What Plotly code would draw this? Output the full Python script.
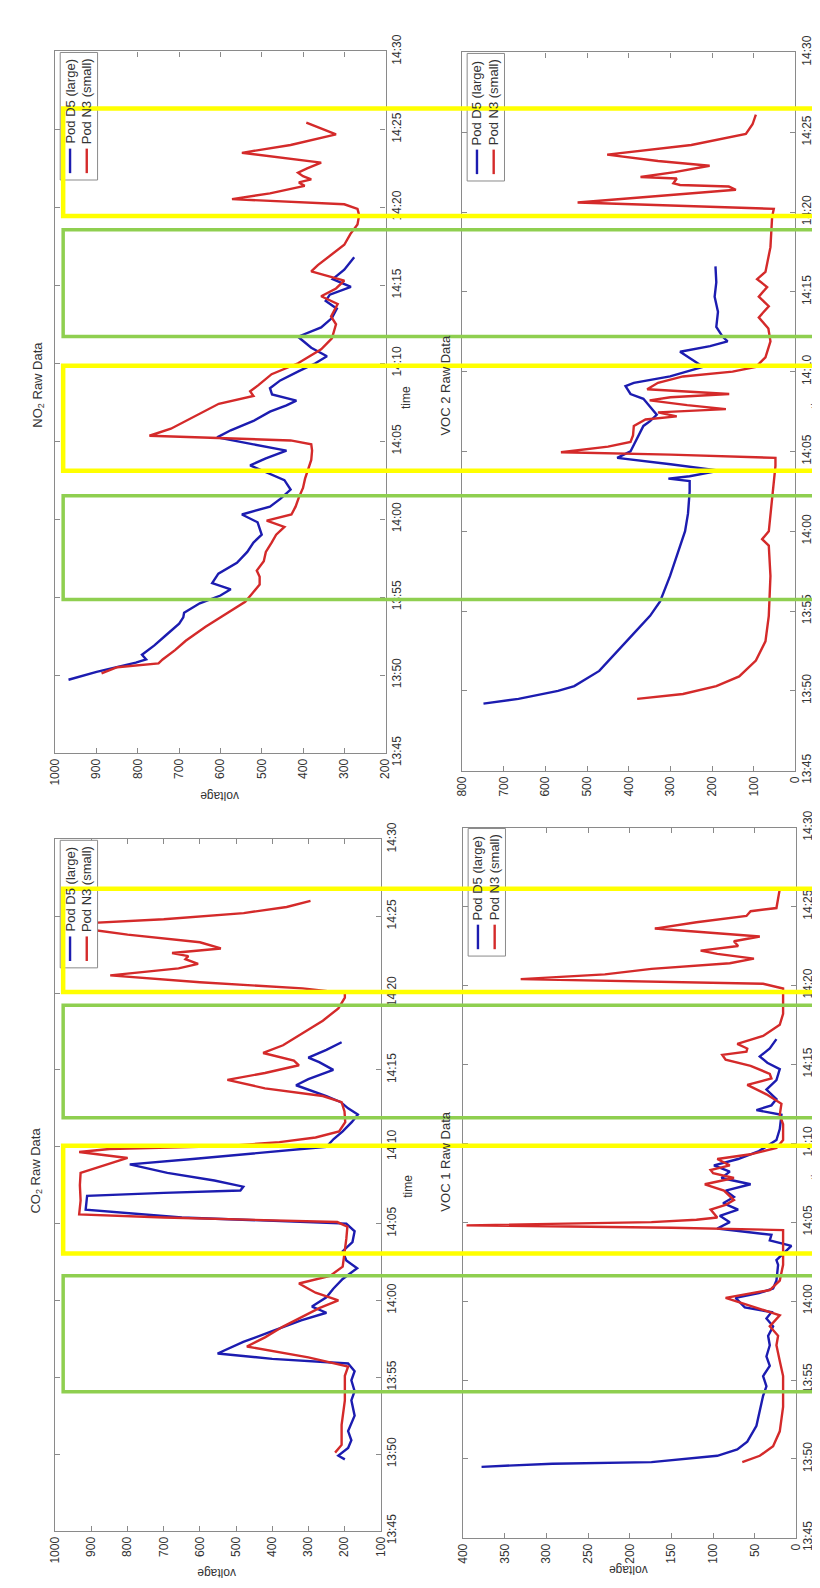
import plotly.graph_objects as go

W, H = 820, 1588

# ---------------- tick labels ----------------
time_tick_vals = [45, 50, 55, 60, 65, 70, 75, 80, 85, 90]          # minutes after 13:00
time_tick_text = ["13:45", "13:50", "13:55", "14:00", "14:05",
                  "14:10", "14:15", "14:20", "14:25", "14:30"]
no2_volt_ticks = [200, 300, 400, 500, 600, 700, 800, 900, 1000]
voc2_volt_ticks = [0, 100, 200, 300, 400, 500, 600, 700, 800]
co2_volt_ticks = [100, 200, 300, 400, 500, 600, 700, 800, 900, 1000]
voc1_volt_ticks = [0, 50, 100, 150, 200, 250, 300, 350, 400]

series_names = ["Pod D5 (large)", "Pod N3 (small)"]

# ---------------- NO2 ----------------
no2_d5_t = [49.7, 50.2, 50.8, 51.0, 51.3, 51.9, 52.6, 53.3, 53.7, 54.0, 54.6, 55.1, 55.5, 55.9, 56.5,
            57.2, 57.9, 58.5, 59.0, 59.8, 60.3, 60.8, 61.3, 61.9, 62.5, 63.0, 63.45, 63.9, 64.4, 64.8,
            65.25, 65.7, 66.3, 66.9, 67.3, 67.6, 68.0, 68.4, 68.9, 69.5, 70.0, 70.45, 71.0, 71.7, 72.3,
            72.9, 73.5, 74.0, 74.4, 74.9, 75.4, 76.0, 76.8]
no2_d5_v = [968, 900, 805, 780, 790, 760, 730, 700, 690, 688, 650, 600, 575, 620, 605,
            560, 535, 520, 500, 510, 548, 480, 455, 430, 445, 490, 528, 490, 440, 520,
            608, 575, 520, 480, 440, 416, 475, 480, 455, 410, 370, 342, 380, 412, 356,
            330, 318, 345, 335, 284, 328, 300, 276]
no2_n3_t = [50.1, 50.5, 50.75, 51.0, 51.6, 52.2, 53.1, 53.9, 54.7, 55.2, 55.8, 56.3, 56.7, 57.3, 57.9,
            58.5, 59.0, 59.5, 59.9, 60.3, 60.8, 61.4, 62.0, 62.6, 63.2, 63.8, 64.4, 64.8, 65.05, 65.35,
            65.8, 66.5, 67.4, 67.9, 68.2, 68.6, 69.3, 70.0, 70.9, 71.6, 72.5, 73.0, 73.8, 74.3, 74.8,
            75.3, 75.9, 76.3, 77.0, 77.6, 78.3, 78.9, 79.5, 79.9, 80.2, 80.53, 80.9, 81.38, 81.6, 81.8,
            82.0, 82.23, 82.5, 82.87, 83.5, 84.0, 84.68, 85.0, 85.43]
no2_n3_v = [888, 850, 750, 740, 710, 684, 636, 588, 540, 524, 505, 505, 512, 495, 490,
            476, 465, 445, 488, 428, 418, 410, 400, 395, 388, 380, 378, 380, 430, 772,
            720, 668, 604, 520, 528, 508, 476, 412, 356, 330, 320, 332, 316, 356, 320,
            300, 380, 364, 330, 300, 285, 268, 264, 268, 300, 572, 480, 396, 410, 380,
            400, 412, 390, 356, 548, 430, 320, 350, 392]

# ---------------- VOC 2 ----------------
voc2_d5_t = [49.2, 49.5, 50.0, 50.3, 51.25, 52.5, 53.6, 54.7, 55.6, 57.2, 59.1, 60.0, 61.1, 62.5, 63.15,
             63.3, 63.45, 63.8, 64.2, 64.6, 65.0, 65.6, 66.6, 66.9, 67.3, 67.8, 68.3, 68.6, 69.1, 69.3,
             69.7, 70.3, 70.8, 71.25, 71.6, 71.9, 72.2, 72.8, 73.75, 74.7, 75.6, 76.6]
voc2_d5_v = [749, 665, 570, 531, 471, 428, 388, 349, 325, 301, 277, 265, 258, 254, 254,
             305, 254, 182, 300, 428, 396, 384, 365, 349, 333, 349, 365, 396, 408, 388,
             301, 222, 250, 277, 205, 163, 175, 190, 186, 194, 190, 192]
voc2_n3_t = [49.5, 49.8, 50.3, 50.9, 51.9, 53.1, 54.7, 57.2, 59.1, 59.5, 60.0, 61.9, 64.1, 64.6, 64.8,
             64.95, 65.3, 65.6, 66.0, 66.6, 67.0, 67.2, 67.45, 67.65, 67.9, 68.2, 68.4, 68.6, 68.9, 69.3,
             69.7, 70.0, 70.3, 70.9, 71.9, 72.7, 73.4, 74.1, 74.7, 75.3, 75.8, 76.25, 77.8, 79.7, 80.2,
             80.6, 81.0, 81.4, 81.6, 81.7, 81.8, 82.1, 82.2, 82.5, 82.9, 83.2, 83.6, 84.2, 84.9, 85.5,
             86.1]
voc2_n3_v = [380, 270, 190, 135, 95, 72, 64, 60, 64, 80, 64, 56, 48, 48, 300,
             563, 450, 396, 390, 388, 360, 285, 330, 167, 260, 350, 300, 159, 356, 330,
             270, 151, 95, 72, 60, 65, 88, 64, 88, 68, 92, 72, 60, 56, 52,
             523, 330, 143, 160, 277, 293, 285, 372, 290, 206, 330, 452, 250, 119, 103,
             95]

# ---------------- CO2 ----------------
co2_d5_t = [49.66, 49.9, 50.4, 50.9, 51.5, 52.5, 53.5, 54.1, 54.8, 55.4, 55.9, 56.2, 56.55, 57.3, 58.0,
            58.7, 59.2, 59.6, 60.2, 60.76, 61.4, 62.1, 62.6, 63.2, 63.8, 64.5, 65.0, 65.4, 65.9, 66.8,
            67.0, 67.15, 67.4, 67.8, 68.3, 68.85, 69.2, 69.6, 70.0, 70.5, 71.0, 71.6, 72.1, 72.5, 72.9,
            73.3, 73.7, 74.0, 74.4, 75.0, 75.5, 75.8, 76.3, 76.8]
co2_d5_v = [199, 217, 190, 181, 190, 172, 181, 172, 181, 172, 190, 400, 551, 480, 400,
            320, 250, 290, 250, 231, 205, 165, 195, 205, 178, 172, 195, 650, 916, 912,
            700, 488, 480, 560, 690, 794, 620, 440, 250, 230, 205, 180, 163, 190, 210,
            250, 300, 334, 300, 231, 270, 300, 250, 208]
co2_n3_t = [50.1, 50.6, 51.9, 53.5, 55.1, 55.7, 56.3, 57.0, 57.6, 58.3, 58.9, 59.5, 60.0, 60.5, 61.1,
            61.6, 62.2, 63.0, 64.0, 64.8, 65.1, 65.4, 65.6, 66.5, 67.5, 68.3, 68.8, 69.27, 69.66, 69.85,
            70.05, 70.3, 70.6, 71.0, 71.6, 72.3, 72.9, 73.3, 73.8, 74.35, 74.8, 75.3, 75.6, 76.1, 76.6,
            77.4, 78.2, 79.0, 79.7, 80.0, 80.3, 80.7, 81.15, 81.6, 81.9, 82.2, 82.4, 82.6, 82.9, 83.3,
            83.8, 84.2, 84.5, 84.8, 85.2, 85.6, 86.0]
co2_n3_v = [226, 208, 208, 199, 199, 190, 300, 470, 420, 370, 320, 270, 217, 280, 326,
            240, 205, 200, 195, 192, 220, 700, 934, 930, 932, 930, 860, 800, 934, 850,
            520, 380, 280, 215, 198, 200, 208, 260, 420, 524, 420, 326, 340, 425, 370,
            316, 260, 217, 199, 199, 316, 600, 848, 659, 605, 640, 632, 677, 542, 600,
            800, 925, 950, 700, 479, 360, 294]

# ---------------- VOC 1 ----------------
voc1_d5_t = [49.5, 49.7, 49.8, 50.2, 50.6, 51.1, 52.1, 53.0, 54.0, 54.6, 55.25, 55.9, 56.5, 57.2, 57.8,
             58.4, 58.9, 59.3, 59.6, 60.2, 60.5, 60.8, 61.3, 62.3, 62.6, 63.1, 63.5, 63.85, 64.2, 64.6,
             65.0, 65.4, 65.8, 66.2, 66.6, 67.0, 67.4, 67.8, 68.2, 68.6, 69.0, 69.5, 70.2, 70.9, 71.8,
             72.1, 72.4, 72.8, 73.4, 74.0, 74.7, 75.1, 75.5, 76.0, 76.6]
voc1_d5_v = [378, 293, 174, 95, 71, 59, 48, 44, 40, 36, 40, 32, 36, 32, 34,
             28, 36, 30, 62, 73, 45, 28, 24, 22, 24, 14, 6, 32, 30, 95,
             80, 92, 70, 88, 75, 85, 55, 90, 80, 99, 70, 45, 24, 20, 18,
             48, 30, 24, 36, 24, 20, 35, 44, 32, 24]
voc1_n3_t = [49.8, 50.2, 50.8, 51.75, 53.3, 55.25, 56.2, 57.2, 57.8, 58.4, 59.1, 59.6, 60.2, 60.7, 61.3,
             62.3, 63.5, 64.5, 64.65, 64.8, 65.0, 65.15, 65.3, 65.8, 66.1, 66.4, 67.0, 67.4, 67.8, 68.1,
             68.3, 68.6, 69.0, 69.3, 69.7, 70.2, 71.2, 71.8, 72.5, 73.1, 73.7, 74.1, 74.4, 74.9, 75.3,
             75.6, 75.8, 76.0, 76.3, 76.8, 77.5, 78.2, 79.8, 80.1, 80.4, 80.7, 81.05, 81.4, 81.7, 82.0,
             82.2, 82.5, 82.8, 83.1, 83.6, 84.0, 84.4, 84.7, 84.9, 85.5, 86.1]
voc1_n3_v = [65, 44, 28, 20, 16, 16, 20, 24, 22, 32, 20, 50, 85, 32, 20,
             16, 16, 16, 150, 396, 174, 120, 95, 103, 85, 75, 87, 110, 75, 100,
             103, 80, 95, 55, 24, 16, 16, 20, 18, 36, 59, 30, 32, 55, 85,
             89, 60, 59, 71, 40, 20, 16, 16, 40, 331, 230, 174, 80, 51, 95,
             115, 70, 75, 44, 170, 120, 60, 55, 24, 22, 20]

# ---------------- highlighted time windows (minutes after 13:00) ----------------
upper_yellow_windows = [[79.45, 86.35], [63.1, 69.84]]
upper_green_windows = [[71.71, 78.57], [54.85, 61.5]]
lower_yellow_windows = [[80.06, 86.78], [63.06, 70.06]]
lower_green_windows = [[71.88, 79.2], [54.06, 61.6]]

BLUE = "#1c1cb0"
RED = "#d42a2a"
AX = "#8a8a8a"
TXT = "#333333"
YEL = "#ffff00"
GRN = "#8fcf50"
FONT = "Liberation Sans, Arial, sans-serif"


def fx(px):
    return px / W


def fy(py):
    return 1 - py / H


panels = [
    dict(key="", title="NO<sub>2</sub> Raw Data", box=(41, 27, 377, 742), vrange=[1000, 200],
         vticks=no2_volt_ticks, d5=(no2_d5_t, no2_d5_v), n3=(no2_n3_t, no2_n3_v),
         title_pos=(23, 367), time_pos=(398, 380), time_size=12, volt_pos=(208, 786)),
    dict(key="2", title="VOC 2 Raw Data", box=(455, 28, 794, 760), vrange=[800, 0],
         vticks=voc2_volt_ticks, d5=(voc2_d5_t, voc2_d5_v), n3=(voc2_n3_t, voc2_n3_v),
         title_pos=(438, 368), time_pos=(814, 381), time_size=11, volt_pos=None),
    dict(key="3", title="CO<sub>2</sub> Raw Data", box=(41, 830, 372, 1535), vrange=[1000, 100],
         vticks=co2_volt_ticks, d5=(co2_d5_t, co2_d5_v), n3=(co2_n3_t, co2_n3_v),
         title_pos=(22, 1168), time_pos=(399, 1184), time_size=12, volt_pos=(205, 1578)),
    dict(key="4", title="VOC 1 Raw Data", box=(456, 818, 795, 1542), vrange=[400, 0],
         vticks=voc1_volt_ticks, d5=(voc1_d5_t, voc1_d5_v), n3=(voc1_n3_t, voc1_n3_v),
         title_pos=(438, 1159), time_pos=(814, 1167), time_size=11, volt_pos=(624, 1575)),
]

fig = go.Figure()
layout = dict(width=W, height=H, margin=dict(l=0, r=0, t=0, b=0),
              paper_bgcolor="white", plot_bgcolor="white", showlegend=False)
shapes = []
annotations = []
tickfont = dict(family=FONT, size=12, color=TXT)

for p in panels:
    k = p["key"]
    l, t, r, b = p["box"]
    xa, ya = "x" + k, "y" + k
    for (tt, vv), col in ((p["d5"], BLUE), (p["n3"], RED)):
        fig.add_trace(go.Scatter(x=vv, y=tt, mode="lines", xaxis=xa, yaxis=ya,
                                 line=dict(color=col, width=2.4), hoverinfo="skip"))
    layout["xaxis" + k] = dict(domain=[fx(l), fx(r)], range=p["vrange"], anchor=ya,
                               tickvals=p["vticks"], tickangle=-90, ticks="inside", ticklen=5,
                               tickcolor=AX, showline=True, linecolor=AX, linewidth=1.2,
                               mirror="ticks", showgrid=False, zeroline=False, tickfont=tickfont)
    layout["yaxis" + k] = dict(domain=[fy(b), fy(t)], range=[45, 90], anchor=xa, side="right",
                               tickvals=time_tick_vals, ticktext=time_tick_text, tickangle=-90,
                               ticks="inside", ticklen=5, tickcolor=AX, showline=True,
                               linecolor=AX, linewidth=1.2, mirror="ticks", showgrid=False,
                               zeroline=False, tickfont=tickfont)
    # rotated legend box
    ll, lt = l + 5, t + 1
    shapes.append(dict(type="rect", xref="paper", yref="paper", x0=fx(ll), x1=fx(ll + 38),
                       y0=fy(lt + 130), y1=fy(lt), line=dict(color=AX, width=1),
                       fillcolor="white", layer="above"))
    for off, col, name in ((10, BLUE, series_names[0]), (27, RED, series_names[1])):
        shapes.append(dict(type="line", xref="paper", yref="paper", x0=fx(ll + off), x1=fx(ll + off),
                           y0=fy(lt + 98), y1=fy(lt + 123), line=dict(color=col, width=2.4),
                           layer="above"))
        annotations.append(dict(text=name, x=fx(ll + off), y=fy(lt + 50), xref="paper", yref="paper",
                                showarrow=False, textangle=-90, xanchor="center", yanchor="middle",
                                font=dict(family=FONT, size=13, color=TXT)))
    # title, axis labels
    annotations.append(dict(text=p["title"], x=fx(p["title_pos"][0]), y=fy(p["title_pos"][1]),
                            xref="paper", yref="paper", showarrow=False, textangle=-90,
                            xanchor="center", yanchor="middle",
                            font=dict(family=FONT, size=13, color=TXT)))
    annotations.append(dict(text="time", x=fx(p["time_pos"][0]), y=fy(p["time_pos"][1]),
                            xref="paper", yref="paper", showarrow=False, textangle=-90,
                            xanchor="center", yanchor="middle",
                            font=dict(family=FONT, size=p["time_size"], color=TXT)))
    if p["volt_pos"]:
        annotations.append(dict(text="voltage", x=fx(p["volt_pos"][0]), y=fy(p["volt_pos"][1]),
                                xref="paper", yref="paper", showarrow=False, textangle=180,
                                xanchor="center", yanchor="middle",
                                font=dict(family=FONT, size=12, color=TXT)))

# highlight boxes spanning both panels of a band
for yref, yw, gw, gright in (("y", upper_yellow_windows, upper_green_windows, 815),
                             ("y3", lower_yellow_windows, lower_green_windows, 818)):
    for w in gw:
        shapes.append(dict(type="rect", xref="paper", yref=yref, x0=fx(49), x1=fx(gright),
                           y0=w[0], y1=w[1], line=dict(color=GRN, width=3.5),
                           fillcolor="rgba(0,0,0,0)", layer="above"))
    for w in yw:
        shapes.append(dict(type="rect", xref="paper", yref=yref, x0=fx(49), x1=1.03,
                           y0=w[0], y1=w[1], line=dict(color=YEL, width=4.5),
                           fillcolor="rgba(0,0,0,0)", layer="above"))

layout["shapes"] = shapes
layout["annotations"] = annotations
fig.update_layout(**layout)
fig.write_html("out.html")
